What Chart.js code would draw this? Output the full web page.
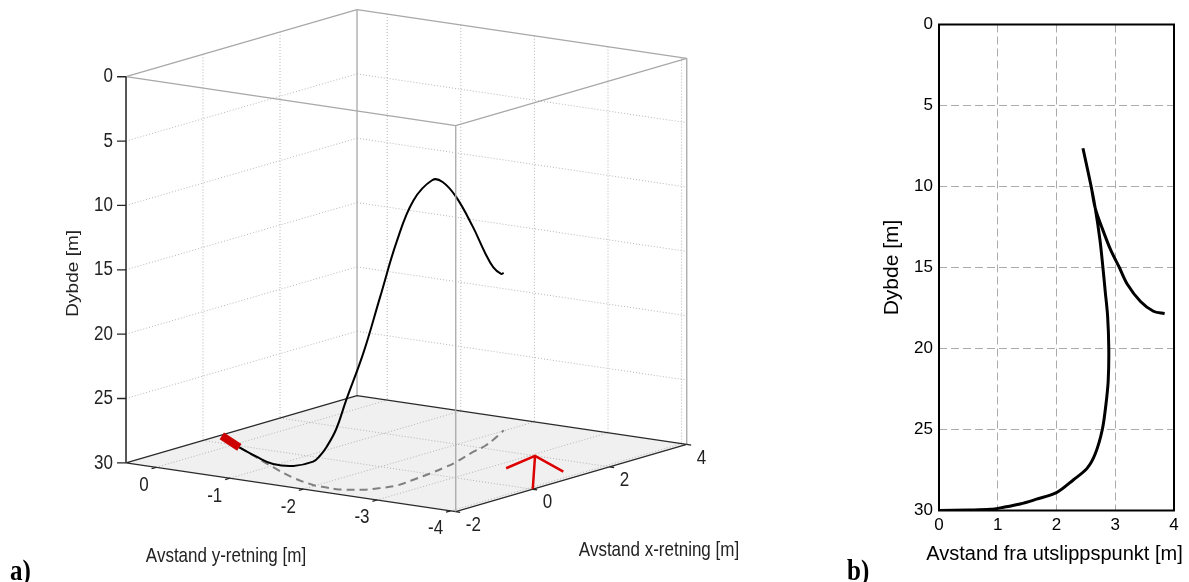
<!DOCTYPE html>
<html>
<head>
<meta charset="utf-8">
<script src="https://cdn.jsdelivr.net/npm/chart.js@4.4.0/dist/chart.umd.min.js"></script>
<style>
  html, body { margin: 0; padding: 0; background: #fff; }
  #wrap { position: relative; width: 1189px; height: 582px; overflow: hidden; }
  #c3d { position: absolute; left: 0; top: 0; }
  #c2d { position: absolute; left: 760px; top: 0; }
</style>
</head>
<body>
<div id="wrap">
  <canvas id="c3d" width="760" height="582"></canvas>
  <canvas id="c2d" width="429" height="582"></canvas>
</div>
<script>
// ---- panel a) : 3D plume path ----
var xTicks = [-2, 0, 2, 4];
var yTicks = [0, -1, -2, -3, -4];
var depthTicks = [0, 5, 10, 15, 20, 25, 30];
var xLim = [-2, 4];
var yLim = [-4.07, 0.41];
var depthLim = [0, 30];

var plumeX = [-0.09, -0.54, -0.97, -1.42, -1.67, -1.69, -1.70, -1.72, -1.66, -1.51, -1.27, -0.97, -0.48, 0.11, 0.45, 0.93, 1.67, 2.14, 2.59, 3.06, 3.24];
var plumeY = [-0.13, -0.60, -1.05, -1.56, -1.96, -2.06, -2.16, -2.30, -2.40, -2.56, -2.66, -2.73, -2.70, -2.65, -2.61, -2.54, -2.38, -2.30, -2.18, -2.04, -1.98];
var plumeDepth = [30, 29.94, 29.75, 29.08, 28.19, 27.65, 26.83, 25.32, 23.1, 19.35, 15.16, 11.03, 8.3, 7.27, 7.75, 9.37, 12.46, 14.96, 16.61, 17.65, 17.77];

var sourceX = [0.43, -0.09];
var sourceY = [0.38, -0.13];

var arrowX = [1.01, 1.99, 1.31, null, 0, 1.99];
var arrowY = [-3.18, -3.06, -3.80, null, -4.07, -3.06];

// ---- panel b) : distance from outlet vs depth ----
var distB = [0, 0.5, 0.87, 1.1, 1.38, 1.66, 2.0, 2.29, 2.52, 2.66, 2.78, 2.84, 2.88, 2.89, 2.87, 2.83, 2.79, 2.74, 2.66, 2.59, 2.45, 2.59, 2.66, 2.78, 2.92, 3.07, 3.2, 3.43, 3.65, 3.84];
var depthB = [30, 29.97, 29.93, 29.8, 29.6, 29.3, 28.9, 28.1, 27.4, 26.5, 25, 23.5, 22, 20, 18, 16.5, 15, 13.3, 11.35, 10, 7.64, 10, 11.35, 12.6, 13.9, 15.0, 16.0, 17.1, 17.7, 17.85];

var FONT = '"Liberation Sans", Arial, Helvetica, sans-serif';
Chart.defaults.font.family = FONT;

// view of the 3D box (orthographic, screen px per data unit)
var view = { ox: 233.2, oy: 58.8, xx: 38.5, xy: -11.2, yx: -73.6, yy: -10.9, dy: 12.87 };

function proj(x, y, d) {
  return { x: view.ox + view.xx * x + view.yx * y, y: view.oy + view.xy * x + view.yy * y + view.dy * d };
}

function segs(list) {
  var out = [];
  list.forEach(function (s) {
    out.push(proj(s[0][0], s[0][1], s[0][2]));
    out.push(proj(s[1][0], s[1][1], s[1][2]));
    out.push({ x: NaN, y: NaN });
  });
  return out;
}

function path(xs, ys, d) {
  return xs.map(function (x, i) {
    if (x === null) return { x: NaN, y: NaN };
    return proj(x, ys[i], Array.isArray(d) ? d[i] : d);
  });
}

function ds(points, color, width, order, extra) {
  var o = {
    data: points, showLine: true, borderColor: color, borderWidth: width,
    pointRadius: 0, pointHoverRadius: 0, fill: false, tension: 0,
    spanGaps: false, order: order, borderCapStyle: 'butt'
  };
  for (var k in extra) o[k] = extra[k];
  return o;
}

var x0 = xLim[0], x1 = xLim[1], yF = yLim[0], yB = yLim[1], dT = depthLim[0], dB = depthLim[1];

var gridList = [];
depthTicks.forEach(function (d) {
  if (d <= dT || d >= dB) return;
  gridList.push([[x0, yB, d], [x1, yB, d]]);
  gridList.push([[x1, yB, d], [x1, yF, d]]);
});
xTicks.forEach(function (x) {
  if (x <= x0 || x >= x1) return;
  gridList.push([[x, yB, dT], [x, yB, dB]]);
  gridList.push([[x, yB, dB], [x, yF, dB]]);
});
yTicks.forEach(function (y) {
  gridList.push([[x1, y, dT], [x1, y, dB]]);
  gridList.push([[x0, y, dB], [x1, y, dB]]);
});

var backEdges = segs([
  [[x0, yB, dT], [x1, yB, dT]], [[x1, yB, dT], [x1, yF, dT]],
  [[x1, yB, dT], [x1, yB, dB]], [[x1, yF, dT], [x1, yF, dB]]
]);
var floorEdges = segs([
  [[x0, yB, dB], [x1, yB, dB]], [[x1, yB, dB], [x1, yF, dB]],
  [[x0, yB, dB], [x0, yF, dB]], [[x0, yF, dB], [x1, yF, dB]]
]);
var frontEdges = segs([
  [[x0, yB, dT], [x0, yF, dT]], [[x0, yF, dT], [x1, yF, dT]],
  [[x0, yF, dT], [x0, yF, dB]]
]);
var zAxis = segs([[[x0, yB, dT], [x0, yB, dB]]]);

var tickPts = [];
depthTicks.forEach(function (d) {
  var p = proj(x0, yB, d);
  tickPts.push(p, { x: p.x - 9, y: p.y }, { x: NaN, y: NaN });
});
yTicks.forEach(function (y) {
  tickPts.push(proj(x0, y, dB), proj(x0 - 0.12, y, dB), { x: NaN, y: NaN });
});
xTicks.forEach(function (x) {
  tickPts.push(proj(x, yF, dB), proj(x, yF - 0.06, dB), { x: NaN, y: NaN });
});

function stretchText(ctx, text, x, y, align, sy) {
  ctx.save();
  ctx.translate(x, y);
  ctx.scale(1, sy);
  ctx.textAlign = align;
  ctx.textBaseline = 'middle';
  ctx.fillText(text, 0, 0);
  ctx.restore();
}

var floorPlugin = {
  id: 'floor',
  beforeDatasetsDraw: function (chart) {
    var ctx = chart.ctx, sx = chart.scales.x, sy = chart.scales.y;
    var corners = [[x0, yB], [x0, yF], [x1, yF], [x1, yB]];
    ctx.save();
    ctx.fillStyle = '#f0f0f0';
    ctx.beginPath();
    corners.forEach(function (c, i) {
      var p = proj(c[0], c[1], dB);
      var px = sx.getPixelForValue(p.x), py = sy.getPixelForValue(p.y);
      if (i === 0) ctx.moveTo(px, py); else ctx.lineTo(px, py);
    });
    ctx.closePath();
    ctx.fill();
    ctx.restore();
  },
  afterDraw: function (chart) {
    var ctx = chart.ctx, sx = chart.scales.x, sy = chart.scales.y;
    function px(p) { return { x: sx.getPixelForValue(p.x), y: sy.getPixelForValue(p.y) }; }
    ctx.save();
    ctx.fillStyle = '#222';
    ctx.font = '17px ' + FONT;
    depthTicks.forEach(function (d) {
      var p = px(proj(x0, yB, d));
      stretchText(ctx, String(d), p.x - 13, p.y, 'right', 1.22);
    });
    yTicks.forEach(function (y) {
      var p = px(proj(x0, y, dB));
      stretchText(ctx, String(y), p.x - 7.5, p.y + 17.7, 'right', 1.22);
    });
    xTicks.forEach(function (x) {
      var p = px(proj(x, yF, dB));
      stretchText(ctx, String(x), p.x + 10, p.y + 13.5, 'left', 1.22);
    });
    stretchText(ctx, 'Avstand y-retning [m]', 226, 556, 'center', 1.22);
    stretchText(ctx, 'Avstand x-retning [m]', 659, 550, 'center', 1.22);
    ctx.save();
    ctx.translate(73.3, 273.3);
    ctx.rotate(-Math.PI / 2);
    ctx.scale(1.12, 1);
    ctx.font = '17px ' + FONT;
    ctx.textAlign = 'center';
    ctx.textBaseline = 'middle';
    ctx.fillText('Dybde [m]', 0, 0);
    ctx.restore();
    ctx.fillStyle = '#000';
    ctx.font = 'bold 25px "Liberation Serif", "Times New Roman", serif';
    ctx.translate(10, 580);
    ctx.scale(1, 1.2);
    ctx.textAlign = 'left';
    ctx.textBaseline = 'alphabetic';
    ctx.fillText('a)', 0, 0);
    ctx.restore();
  }
};

new Chart(document.getElementById('c3d'), {
  type: 'scatter',
  data: {
    datasets: [
      ds(segs(gridList), '#b5b5b5', 1, 20, { borderDash: [1, 2] }),
      ds(backEdges, '#a8a8a8', 1.3, 19),
      ds(floorEdges, '#2a2a2a', 1.3, 18),
      ds(path(plumeX, plumeY, dB), '#808080', 2, 17, { borderDash: [8, 5], tension: 0.4 }),
      ds(path(plumeX, plumeY, plumeDepth), '#000000', 2, 16, { tension: 0.4 }),
      ds(path(sourceX, sourceY, dB), '#cc0000', 8, 15),
      ds(path(arrowX, arrowY, dB), '#dd0000', 2.5, 14),
      ds(frontEdges, '#a8a8a8', 1.3, 13),
      ds(zAxis, '#404040', 1, 12),
      ds(tickPts, '#262626', 1.3, 11)
    ]
  },
  options: {
    responsive: false,
    animation: false,
    events: [],
    layout: { padding: 0 },
    plugins: { legend: { display: false }, tooltip: { enabled: false } },
    scales: {
      x: { type: 'linear', display: false, min: 0, max: 760 },
      y: { type: 'linear', display: false, min: 0, max: 582, reverse: true }
    }
  },
  plugins: [floorPlugin]
});

// ---- panel b) ----
var boxPlugin = {
  id: 'box',
  afterDatasetsDraw: function (chart) {
    var a = chart.chartArea, ctx = chart.ctx;
    ctx.save();
    ctx.strokeStyle = '#000';
    ctx.lineWidth = 2;
    ctx.strokeRect(a.left, a.top, a.right - a.left, a.bottom - a.top);
    ctx.restore();
  },
  afterDraw: function (chart) {
    var ctx = chart.ctx, a = chart.chartArea;
    ctx.save();
    ctx.fillStyle = '#000';
    ctx.font = '20px ' + FONT;
    ctx.textAlign = 'center';
    ctx.textBaseline = 'middle';
    ctx.fillText('Avstand fra utslippspunkt [m]', (a.left + a.right) / 2 - 2, 554);
    ctx.font = 'bold 25px "Liberation Serif", "Times New Roman", serif';
    ctx.translate(87, 580);
    ctx.scale(1, 1.2);
    ctx.textAlign = 'left';
    ctx.textBaseline = 'alphabetic';
    ctx.fillText('b)', 0, 0);
    ctx.restore();
  }
};

new Chart(document.getElementById('c2d'), {
  type: 'scatter',
  data: {
    datasets: [{
      data: distB.map(function (d, i) { return { x: d, y: depthB[i] }; }),
      showLine: true,
      borderColor: '#000',
      borderWidth: 3,
      pointRadius: 0,
      pointHoverRadius: 0,
      tension: 0.3
    }]
  },
  options: {
    responsive: false,
    animation: false,
    events: [],
    layout: { padding: { left: 117, right: 15, top: 24.5, bottom: 0 } },
    plugins: { legend: { display: false }, tooltip: { enabled: false } },
    scales: {
      x: {
        type: 'linear', min: 0, max: 4,
        ticks: { stepSize: 1, padding: 5, color: '#000', font: { size: 17 } },
        grid: { color: '#ababab', lineWidth: 1, drawTicks: false },
        border: { display: false, dash: [8, 4] },
        title: { display: false },
        afterFit: function (s) { s.height = 71.5; }
      },
      y: {
        type: 'linear', min: 0, max: 30, reverse: true,
        ticks: { stepSize: 5, padding: 6, color: '#000', font: { size: 17 } },
        grid: { color: '#ababab', lineWidth: 1, drawTicks: false },
        border: { display: false, dash: [8, 4] },
        title: { display: true, text: 'Dybde [m]', color: '#000', font: { size: 21 }, padding: { top: 3, bottom: 0 } },
        afterFit: function (s) { s.width = 62; }
      }
    }
  },
  plugins: [boxPlugin]
});
</script>
</body>
</html>
